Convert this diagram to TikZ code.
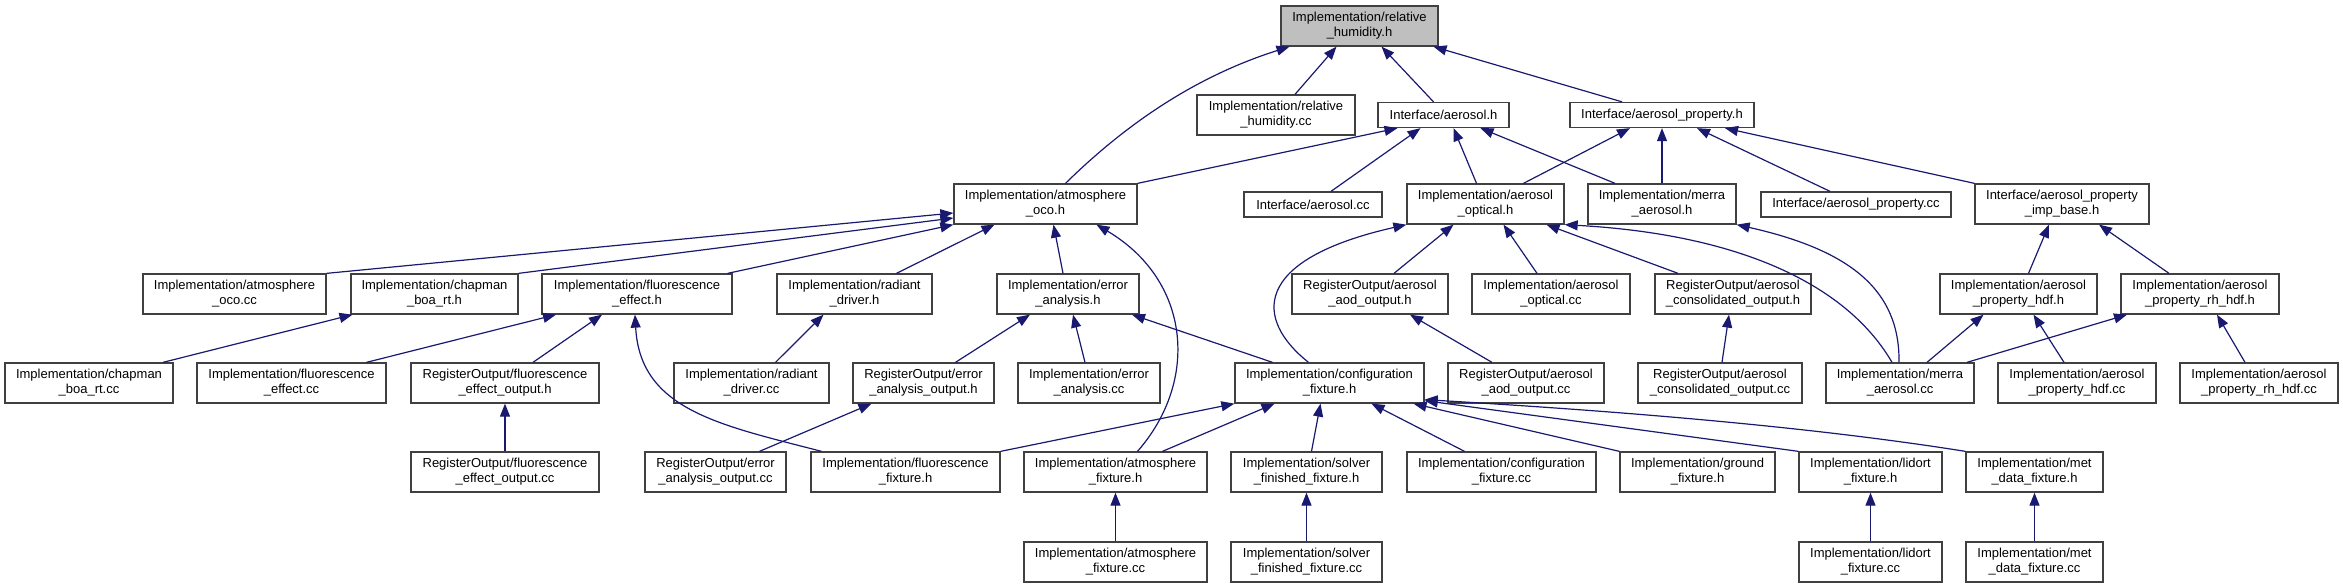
\documentclass[tikz,border=0pt]{standalone}
\usepackage{xcolor}
\usepackage{fontspec}
\setmainfont{Liberation Sans}
\usepackage{tikz}
\usetikzlibrary{arrows.meta}
\definecolor{midnight}{HTML}{191970}
\definecolor{boxline}{HTML}{404040}
\definecolor{rootgray}{HTML}{BFBFBF}
\begin{document}
\begin{tikzpicture}[x=1pt,y=-1pt,
  file/.style={rectangle,draw=boxline,line width=1.3pt,fill=white,minimum height=40,inner sep=0pt,align=center,font=\fontsize{13}{15}\selectfont},
  fileline/.style={file,minimum height=25},
  dep/.style={-{Triangle[length=13pt,width=10pt]},midnight,line width=1.2pt}]
\useasboundingbox (0,0) rectangle (2343,588);
\node[file,fill=rootgray,minimum width=157] (root) at (1359.5,26) {Implementation/relative\\\_humidity.h};
\node[file,minimum width=158] (rhcc) at (1276,115) {Implementation/relative\\\_humidity.cc};
\node[fileline,minimum width=131] (aer) at (1443.5,115) {Interface/aerosol.h};
\node[fileline,minimum width=184] (aprop) at (1662,115) {Interface/aerosol\_property.h};
\node[file,minimum width=183] (atmoh) at (1045.5,204) {Implementation/atmosphere\\\_oco.h};
\node[fileline,minimum width=138] (aercc) at (1313,204.5) {Interface/aerosol.cc};
\node[file,minimum width=157] (opth) at (1485.5,204) {Implementation/aerosol\\\_optical.h};
\node[file,minimum width=148] (merrah) at (1662,204) {Implementation/merra\\\_aerosol.h};
\node[fileline,minimum width=190] (apropcc) at (1856,204.5) {Interface/aerosol\_property.cc};
\node[file,minimum width=174] (impbase) at (2062,204) {Interface/aerosol\_property\\\_imp\_base.h};
\node[file,minimum width=183] (atmocc) at (234.5,294) {Implementation/atmosphere\\\_oco.cc};
\node[file,minimum width=167] (chaph) at (434.5,294) {Implementation/chapman\\\_boa\_rt.h};
\node[file,minimum width=190] (fluoh) at (637,294) {Implementation/fluorescence\\\_effect.h};
\node[file,minimum width=155] (radh) at (854.5,294) {Implementation/radiant\\\_driver.h};
\node[file,minimum width=142] (errh) at (1068,294) {Implementation/error\\\_analysis.h};
\node[file,minimum width=156] (aodh) at (1370,294) {RegisterOutput/aerosol\\\_aod\_output.h};
\node[file,minimum width=158] (optcc) at (1551,294) {Implementation/aerosol\\\_optical.cc};
\node[file,minimum width=156] (consh) at (1733,294) {RegisterOutput/aerosol\\\_consolidated\_output.h};
\node[file,minimum width=157] (hdfh) at (2018.5,294) {Implementation/aerosol\\\_property\_hdf.h};
\node[file,minimum width=158] (rhhdfh) at (2200,294) {Implementation/aerosol\\\_property\_rh\_hdf.h};
\node[file,minimum width=168] (chapcc) at (89,383) {Implementation/chapman\\\_boa\_rt.cc};
\node[file,minimum width=189] (fluocc) at (291.5,383) {Implementation/fluorescence\\\_effect.cc};
\node[file,minimum width=188] (fluooh) at (505,383) {RegisterOutput/fluorescence\\\_effect\_output.h};
\node[file,minimum width=155] (radcc) at (751.5,383) {Implementation/radiant\\\_driver.cc};
\node[file,minimum width=141] (erroh) at (923.5,383) {RegisterOutput/error\\\_analysis\_output.h};
\node[file,minimum width=142] (errcc) at (1089,383) {Implementation/error\\\_analysis.cc};
\node[file,minimum width=189] (configh) at (1329.5,383) {Implementation/configuration\\\_fixture.h};
\node[file,minimum width=156] (aodcc) at (1526,383) {RegisterOutput/aerosol\\\_aod\_output.cc};
\node[file,minimum width=164] (conscc) at (1720,383) {RegisterOutput/aerosol\\\_consolidated\_output.cc};
\node[file,minimum width=148] (merracc) at (1900,383) {Implementation/merra\\\_aerosol.cc};
\node[file,minimum width=158] (hdfcc) at (2077,383) {Implementation/aerosol\\\_property\_hdf.cc};
\node[file,minimum width=158] (rhhdfcc) at (2259,383) {Implementation/aerosol\\\_property\_rh\_hdf.cc};
\node[file,minimum width=188] (fluoocc) at (505,472) {RegisterOutput/fluorescence\\\_effect\_output.cc};
\node[file,minimum width=141] (erraocc) at (715.5,472) {RegisterOutput/error\\\_analysis\_output.cc};
\node[file,minimum width=189] (fluofix) at (905.5,472) {Implementation/fluorescence\\\_fixture.h};
\node[file,minimum width=183] (atmofix) at (1115.5,472) {Implementation/atmosphere\\\_fixture.h};
\node[file,minimum width=151] (solvfix) at (1306.5,472) {Implementation/solver\\\_finished\_fixture.h};
\node[file,minimum width=189] (configcc) at (1501.5,472) {Implementation/configuration\\\_fixture.cc};
\node[file,minimum width=155] (groundfix) at (1697.5,472) {Implementation/ground\\\_fixture.h};
\node[file,minimum width=143] (lidfix) at (1870.5,472) {Implementation/lidort\\\_fixture.h};
\node[file,minimum width=137] (metfix) at (2034.5,472) {Implementation/met\\\_data\_fixture.h};
\node[file,minimum width=183] (atmofixcc) at (1115.5,562) {Implementation/atmosphere\\\_fixture.cc};
\node[file,minimum width=151] (solvfixcc) at (1306.5,562) {Implementation/solver\\\_finished\_fixture.cc};
\node[file,minimum width=143] (lidcc) at (1870.5,562) {Implementation/lidort\\\_fixture.cc};
\node[file,minimum width=137] (metcc) at (2034.5,562) {Implementation/met\\\_data\_fixture.cc};
\draw[dep] ([xshift=19]rhcc.north) -- ([xshift=-23]root.south);
\draw[dep] ([xshift=-10]aer.north) -- ([xshift=22]root.south);
\draw[dep] ([xshift=-40]aprop.north) -- ([xshift=74]root.south);
\draw[dep] ([xshift=20]atmoh.north) .. controls (1130,120) and (1200,75) .. ([xshift=-70]root.south);
\draw[dep] (atmoh.north east) -- ([xshift=-46]aer.south);
\draw[dep] ([xshift=18]aercc.north) -- ([xshift=-23]aer.south);
\draw[dep] ([xshift=-9]opth.north) -- ([xshift=10]aer.south);
\draw[dep] ([xshift=-47]merrah.north) -- ([xshift=37]aer.south);
\draw[dep] ([xshift=38]opth.north) -- ([xshift=-32]aprop.south);
\draw[dep] (merrah.north) -- (aprop.south);
\draw[dep] ([xshift=-26]apropcc.north) -- ([xshift=35]aprop.south);
\draw[dep] (impbase.north west) -- ([xshift=63]aprop.south);
\draw[dep] (atmocc.north east) -- ([yshift=-9]atmoh.west);
\draw[dep] (chaph.north east) -- ([yshift=-14]atmoh.west);
\draw[dep] ([xshift=-5]fluoh.north east) -- (atmoh.south west);
\draw[dep] ([xshift=42]radh.north) -- ([xshift=-51]atmoh.south);
\draw[dep] ([xshift=-5]errh.north) -- ([xshift=8]atmoh.south);
\draw[dep] ([xshift=22]atmofix.north) .. controls (1200,380) and (1190,280) .. ([xshift=51]atmoh.south);
\draw[dep] ([xshift=-21]configh.north) .. controls (1255,320) and (1250,260) .. (opth.south west);
\draw[dep] ([xshift=24]aodh.north) -- ([xshift=-32]opth.south);
\draw[dep] ([xshift=-14]optcc.north) -- ([xshift=18]opth.south);
\draw[dep] ([xshift=-55]consh.north) -- ([xshift=61]opth.south);
\draw[dep] ([xshift=-8]merracc.north) .. controls (1850,290) and (1750,235) .. (opth.south east);
\draw[dep] ([xshift=-1]merracc.north) .. controls (1900,290) and (1850,250) .. (merrah.south east);
\draw[dep] ([xshift=10]hdfh.north) -- ([xshift=-13]impbase.south);
\draw[dep] ([xshift=-31]rhhdfh.north) -- ([xshift=37]impbase.south);
\draw[dep] ([xshift=74]chapcc.north) -- ([xshift=-82]chaph.south);
\draw[dep] ([xshift=75]fluocc.north) -- ([xshift=-81]fluoh.south);
\draw[dep] ([xshift=28]fluooh.north) -- ([xshift=-35]fluoh.south);
\draw[dep] ([xshift=-84]fluofix.north) .. controls (720,425) and (640,410) .. ([xshift=-2]fluoh.south);
\draw[dep] ([xshift=24]radcc.north) -- ([xshift=-31]radh.south);
\draw[dep] ([xshift=32]erroh.north) -- ([xshift=-38]errh.south);
\draw[dep] ([xshift=-4]errcc.north) -- ([xshift=5]errh.south);
\draw[dep] ([xshift=-57]configh.north) -- ([xshift=64]errh.south);
\draw[dep] ([xshift=-34]aodcc.north) -- ([xshift=40]aodh.south);
\draw[dep] ([xshift=2]conscc.north) -- ([xshift=-4]consh.south);
\draw[dep] ([xshift=27]merracc.north) -- ([xshift=-35]hdfh.south);
\draw[dep] ([xshift=-13]hdfcc.north) -- ([xshift=15]hdfh.south);
\draw[dep] ([xshift=67]merracc.north) -- ([xshift=-73]rhhdfh.south);
\draw[dep] ([xshift=-14]rhhdfcc.north) -- ([xshift=17]rhhdfh.south);
\draw[dep] (fluoocc.north) -- (fluooh.south);
\draw[dep] ([xshift=44]erraocc.north) -- ([xshift=-52]erroh.south);
\draw[dep] (fluofix.north east) -- (configh.south west);
\draw[dep] ([xshift=47]atmofix.north) -- ([xshift=-55]configh.south);
\draw[dep] ([xshift=5]solvfix.north) -- ([xshift=-9]configh.south);
\draw[dep] ([xshift=-37]configcc.north) -- ([xshift=42]configh.south);
\draw[dep] (groundfix.north west) -- ([xshift=84]configh.south);
\draw[dep] (lidfix.north west) -- ([yshift=3]configh.south east);
\draw[dep] (metfix.north west) .. controls (1800,425) and (1600,410) .. ([yshift=4]configh.south east);
\draw[dep] (atmofixcc.north) -- (atmofix.south);
\draw[dep] (solvfixcc.north) -- (solvfix.south);
\draw[dep] (lidcc.north) -- (lidfix.south);
\draw[dep] (metcc.north) -- (metfix.south);
\end{tikzpicture}
\end{document}
